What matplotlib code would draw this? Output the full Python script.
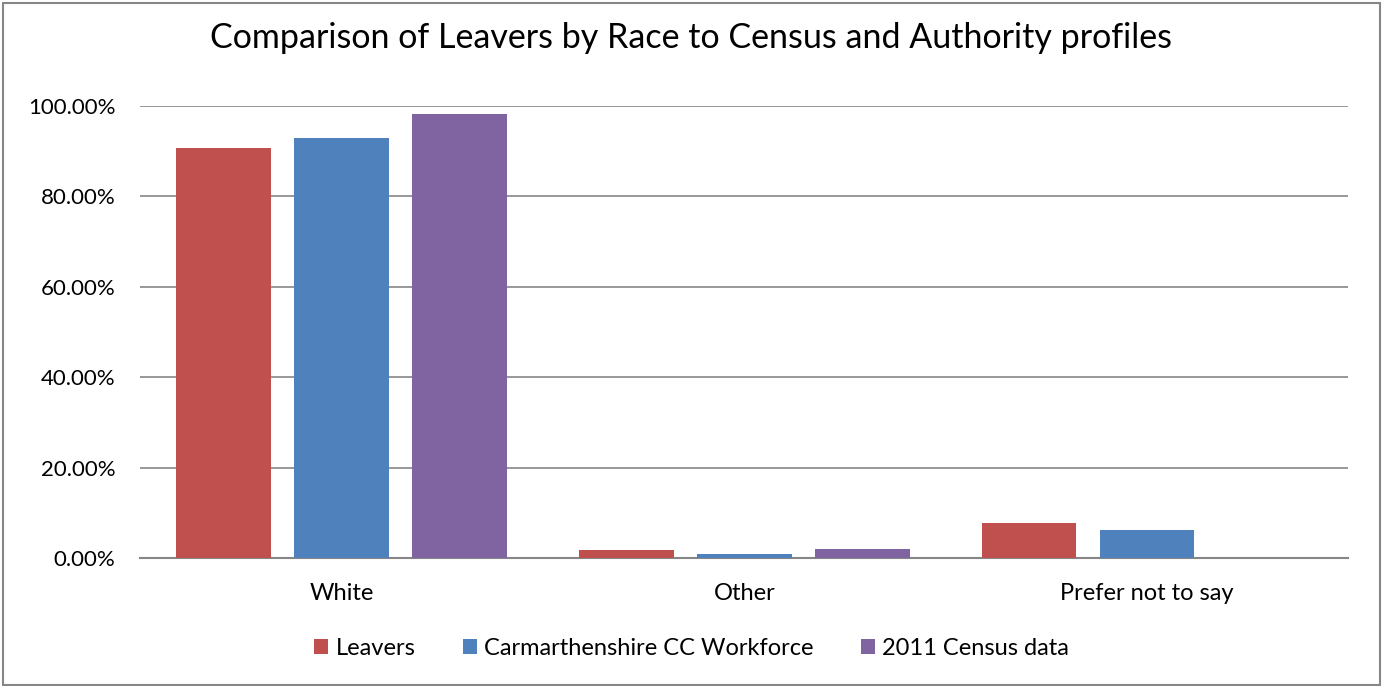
import numpy as np
import matplotlib.pyplot as plt
from matplotlib.patches import Rectangle

plt.rcParams['font.family'] = ['Lato', 'DejaVu Sans']

# dados (percentuais)
categorias = ['White', 'Other', 'Prefer not to say']
series = ['Leavers', 'Carmarthenshire CC Workforce', '2011 Census data']
leavers = [90.6, 1.7, 7.7]
workforce = [92.8, 0.9, 6.3]
census = [98.2, 1.9, 0.0]
cores = ['#C0504D', '#4F81BD', '#8064A2']

fig = plt.figure(figsize=(13.83, 6.86), dpi=100)
ax = fig.add_axes([0.1015, 0.1866, 0.8735, 0.659])

x = np.arange(len(categorias))
larg = 0.235
passo = 0.293
for i, (nome, vals) in enumerate(zip(series, [leavers, workforce, census])):
    ax.bar(x + (i - 1) * passo, vals, larg, color=cores[i], label=nome, zorder=3)

ax.set_xlim(-0.5, 2.5)
ax.set_ylim(0, 100)
ax.set_yticks(np.arange(0, 101, 20))
ax.set_yticklabels([f'{v:.2f}%' for v in np.arange(0, 101, 20)], fontsize=16)
ax.set_xticks(x)
ax.set_xticklabels(categorias, fontsize=17)
ax.tick_params(axis='y', length=0, pad=18)
ax.tick_params(axis='x', length=0, pad=18)
ax.yaxis.grid(True, color='#868686', linewidth=1.2, zorder=0)
for s in ['top', 'right', 'left']:
    ax.spines[s].set_visible(False)
ax.spines['bottom'].set_color('#868686')
ax.spines['bottom'].set_linewidth(1.5)

fig.suptitle('Comparison of Leavers by Race to Census and Authority profiles', fontsize=24.5, y=0.968)
fig.legend(loc='center', bbox_to_anchor=(0.5, 0.055), ncol=3, frameon=False, fontsize=17,
           handlelength=0.6, handleheight=0.6, handletextpad=0.3, columnspacing=2.0)

# moldura em volta da figura
fig.patches.append(Rectangle((0.002, 0.002), 0.996, 0.994, transform=fig.transFigure,
                             fill=False, edgecolor='#868686', linewidth=1.5))

plt.savefig('out.png', dpi=100)
